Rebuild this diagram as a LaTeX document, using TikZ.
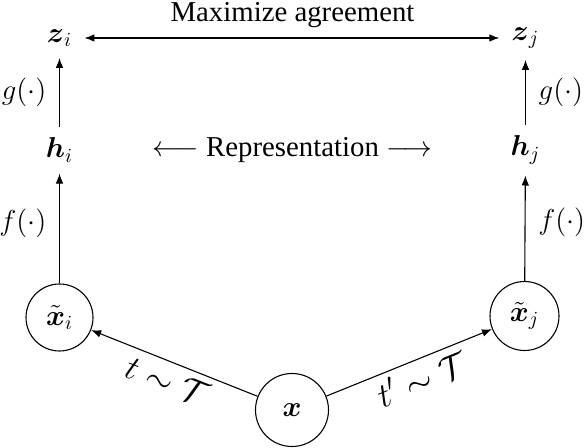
\documentclass[tikz,border=0pt]{standalone}
\usepackage{amsmath}
\usepackage{fontspec}
\setmainfont{Liberation Serif}
\usetikzlibrary{arrows.meta}
\tikzset{
  every node/.style={font=\fontsize{14.4}{17}\selectfont},
  lbl/.style={inner sep=0pt},
  tlbl/.style={font=\fontsize{17.3}{20}\selectfont, inner sep=1pt},
  circ/.style={draw, circle, line width=0.55pt, inner sep=0pt},
  conn/.style={line width=0.55pt, -{Latex[length=5pt,width=3.8pt]}},
  biconn/.style={line width=0.55pt, {Latex[length=5pt,width=3.8pt]}-{Latex[length=5pt,width=3.8pt]}},
}
\begin{document}
\begin{tikzpicture}[x=0.5pt,y=-0.5pt]
\useasboundingbox (0,0) rectangle (584,448);
% nodes
\node[lbl] (zi) at (59.5,38) {$\boldsymbol{z}_i$};
\node[lbl] (zj) at (525.5,38) {$\boldsymbol{z}_j$};
\node[lbl] (hi) at (59.5,150) {$\boldsymbol{h}_i$};
\node[lbl] (hj) at (525.5,150) {$\boldsymbol{h}_j$};
\node[circ, minimum size=33.5pt] (xi) at (59.5,317.5) {$\tilde{\boldsymbol{x}}_i$};
\node[circ, minimum size=34.5pt] (xj) at (524.5,316) {$\tilde{\boldsymbol{x}}_j$};
\node[circ, minimum size=36.5pt] (x) at (292,410) {$\boldsymbol{x}$};
\node[lbl, anchor=base] (maxag) at (292.5,22) {Maximize agreement};
\node[lbl, anchor=base] (rep) at (292.5,157) {$\longleftarrow$ Representation $\longrightarrow$};
% connectors
\draw[biconn, shorten <=6pt, shorten >=6pt] (zi) -- (zj);
\draw[conn, shorten <=5pt, shorten >=5.5pt] (hi) -- node[left=3pt] {$g(\cdot)$} (zi);
\draw[conn, shorten <=5pt, shorten >=5.5pt] (hj) -- node[right=3pt] {$g(\cdot)$} (zj);
\draw[conn, shorten >=5.5pt] (xi) -- node[left=3pt] {$f(\cdot)$} (hi);
\draw[conn, shorten >=5.5pt] (xj) -- node[right=3pt] {$f(\cdot)$} (hj);
\draw[conn] (x) -- node[tlbl, sloped, below=2.5pt, pos=0.5] {$t \sim \mathcal{T}$} (xi);
\draw[conn] (x) -- node[tlbl, sloped, below=2pt, pos=0.53] {$t' \sim \mathcal{T}$} (xj);
\end{tikzpicture}
\end{document}
